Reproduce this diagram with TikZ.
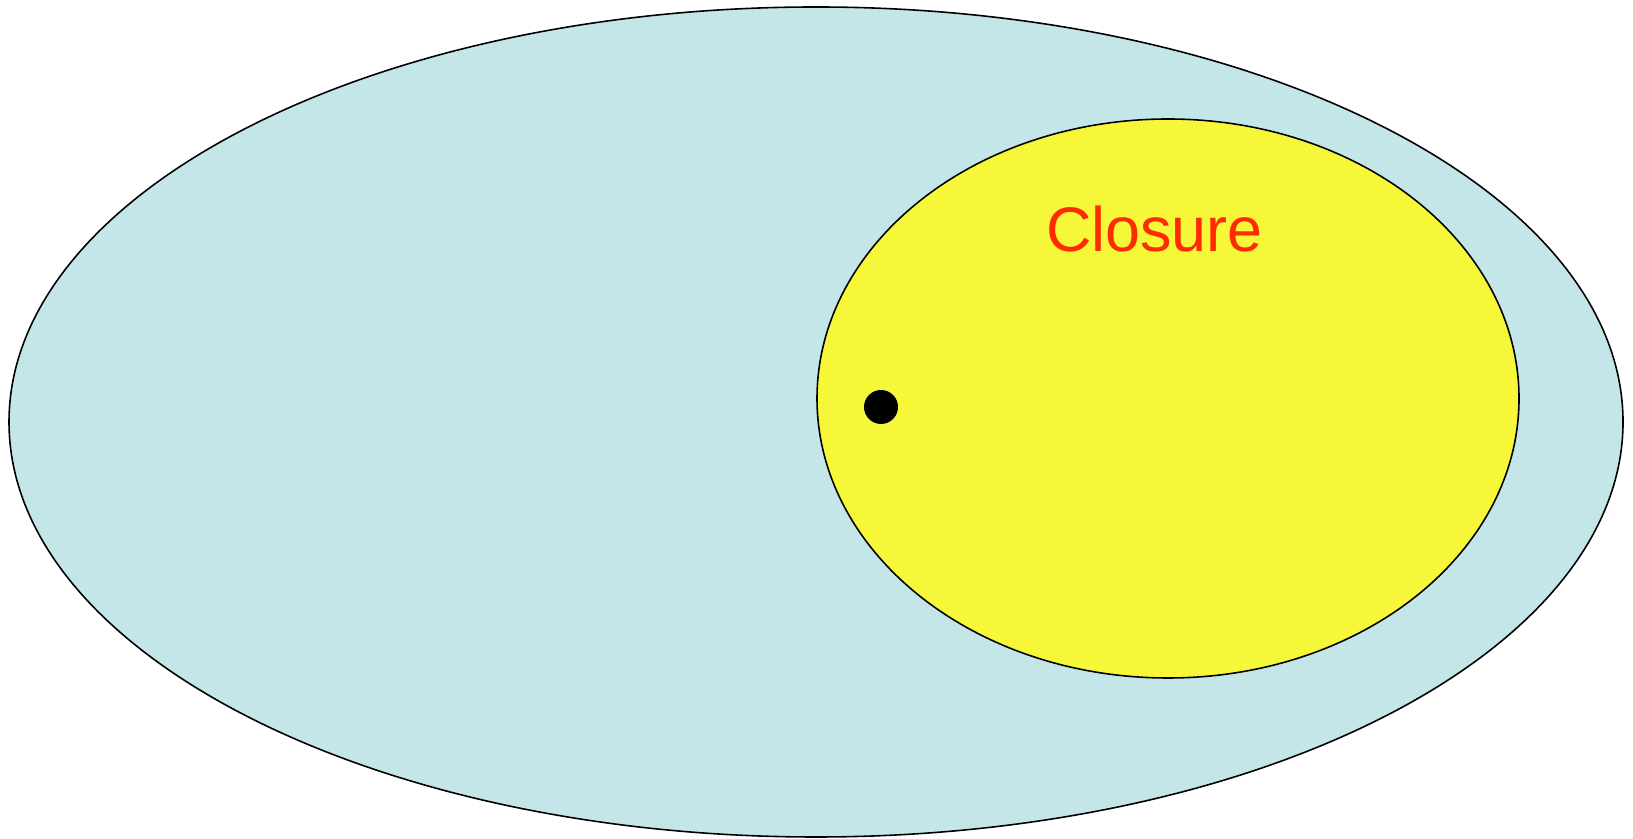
\documentclass[tikz,border=0pt]{standalone}
\usepackage{fontspec}
\setmainfont{Liberation Sans}
\usetikzlibrary{shapes.geometric}
\definecolor{setblue}{RGB}{196,230,233}
\definecolor{setyellow}{RGB}{247,247,58}
\definecolor{setred}{RGB}{255,42,0}

\begin{document}
\begin{tikzpicture}
\useasboundingbox (0,0) rectangle (32.66,16.78);
% Outer set
\node[ellipse, draw=black, line width=0.9pt, fill=setblue, inner sep=0pt,
      minimum width=32.28cm, minimum height=16.60cm] (outer) at (16.32,8.34) {};
% Closure set
\node[ellipse, draw=black, line width=0.9pt, fill=setyellow, inner sep=0pt,
      minimum width=14.04cm, minimum height=11.18cm] (closure) at (23.36,8.81) {};
\node[anchor=base, text=setred, inner sep=0pt, font=\fontsize{35.8}{40}\selectfont] (label) at (23.09,11.74) {Closure};
% Point
\node[circle, fill=black, inner sep=0pt, minimum size=0.68cm] (pt) at (17.62,8.64) {};
\end{tikzpicture}
\end{document}
